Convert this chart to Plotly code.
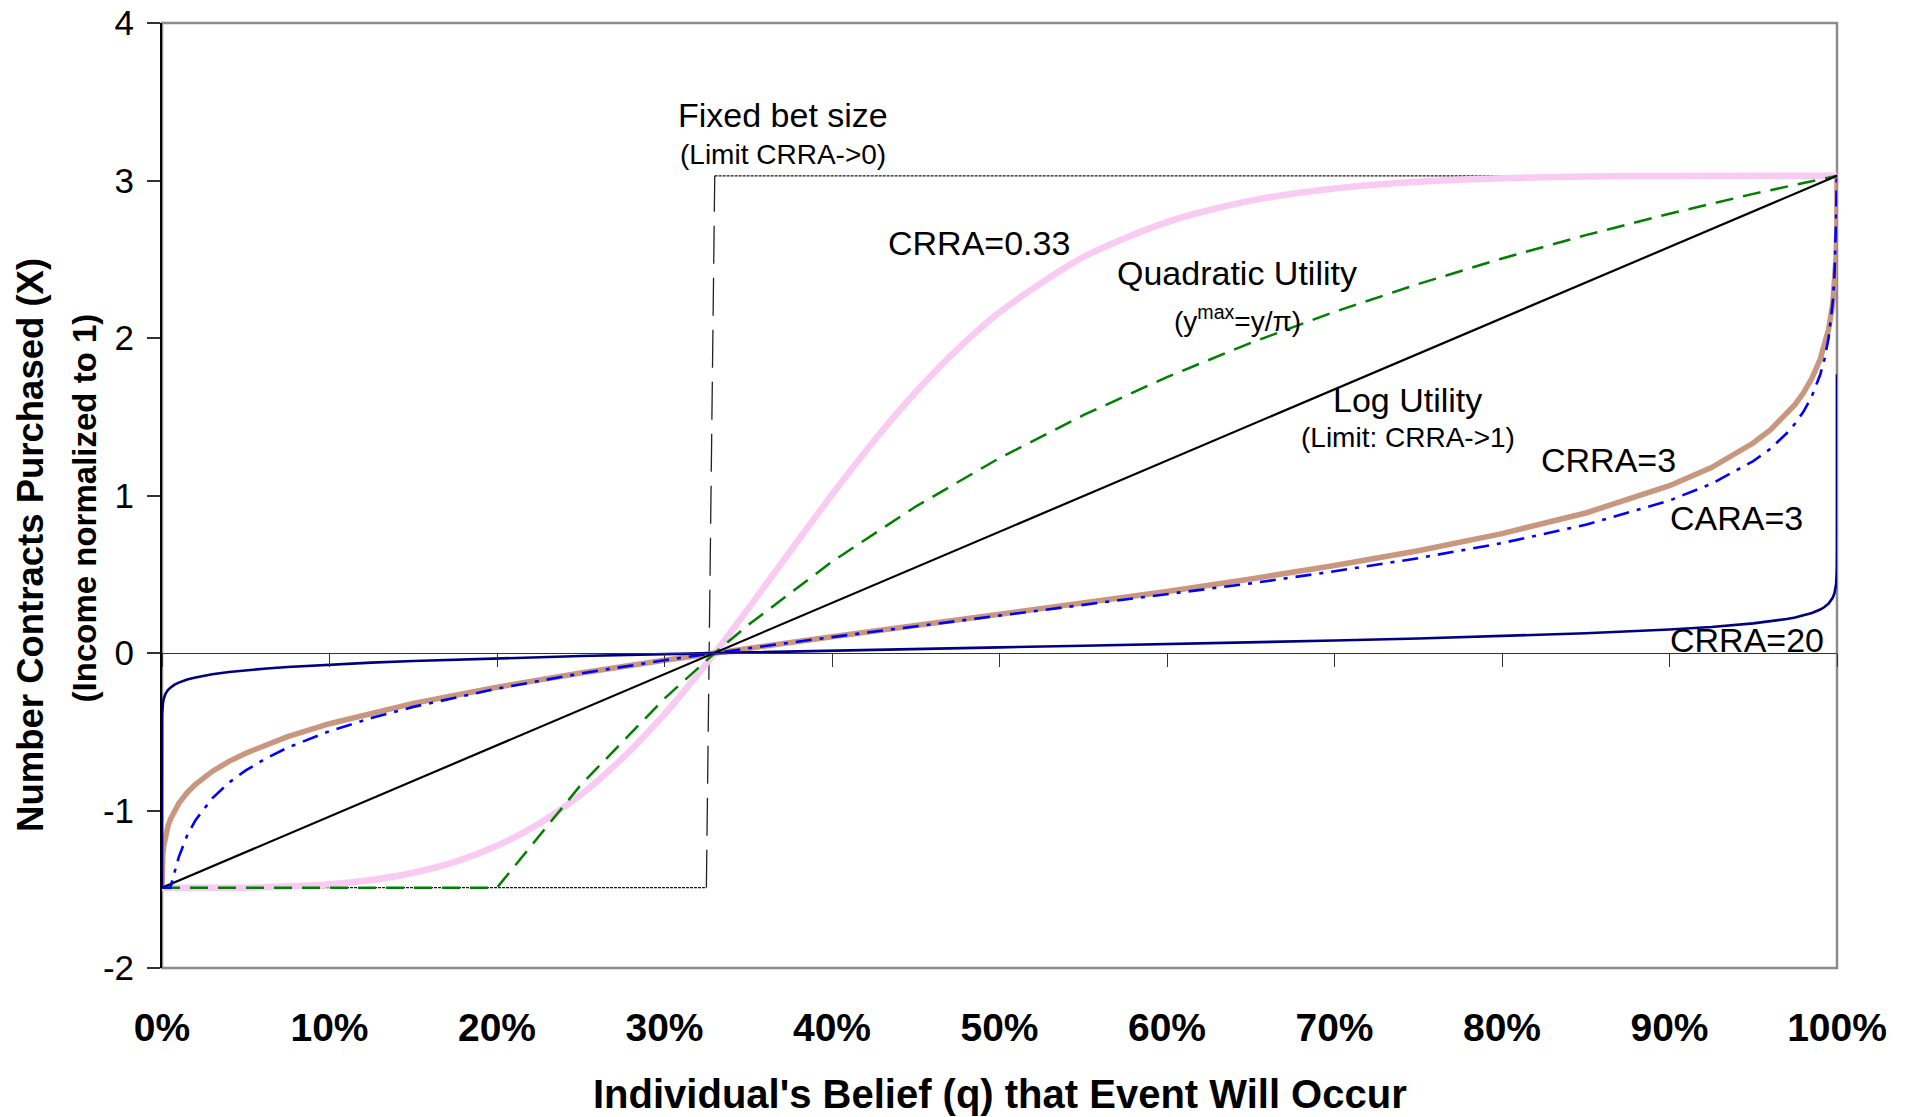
import plotly.graph_objects as go

# ---------------- data ----------------
x_tickvals = [0, 0.1, 0.2, 0.3, 0.4, 0.5, 0.6, 0.7, 0.8, 0.9, 1.0]
x_ticktext = ["0%", "10%", "20%", "30%", "40%", "50%", "60%", "70%", "80%", "90%", "100%"]
y_tickvals = [-2, -1, 0, 1, 2, 3, 4]
y_ticktext = ["-2", "-1", "0", "1", "2", "3", "4"]

# Fixed bet size (limit CRRA -> 0)
fixed_q = [0.0, 0.325, 0.33, 1.0]
fixed_x = [-1.49, -1.49, 3.03, 3.03]

# Log utility
log_q = [0.0, 1.0]
log_x = [-1.49, 3.03]

# CRRA = 0.33
crra033_q = [0.0, 0.05, 0.075, 0.1, 0.125, 0.15, 0.175, 0.2, 0.225, 0.25, 0.275, 0.3, 0.31, 0.33,
             0.35, 0.375, 0.4, 0.425, 0.45, 0.475, 0.5, 0.55, 0.6, 0.65, 0.7, 0.75, 0.8, 0.85, 0.9, 1.0]
crra033_x = [-1.49, -1.49, -1.483, -1.468, -1.441, -1.395, -1.326, -1.224, -1.084, -0.900, -0.667, -0.388, -0.264, 0.0,
             0.282, 0.645, 1.005, 1.346, 1.657, 1.930, 2.163, 2.513, 2.736, 2.872, 2.949, 2.992, 3.014, 3.025, 3.029, 3.03]

# Quadratic utility
quad_q = [0.0, 0.2, 0.25, 0.3, 0.33, 0.35, 0.4, 0.45, 0.5, 0.55, 0.6, 0.65, 0.7, 0.75, 0.8, 0.85, 0.9, 0.95, 1.0]
quad_x = [-1.49, -1.49, -0.838, -0.289, 0.0, 0.178, 0.580, 0.930, 1.238, 1.510, 1.752, 1.969, 2.166, 2.343,
          2.505, 2.653, 2.789, 2.915, 3.03]

# shared belief grid for CRRA=3, CARA=3, CRRA=20
q_grid = [0.0, 0.00001, 0.00005, 0.0001, 0.0005, 0.001, 0.002, 0.0035, 0.005, 0.0075,
          0.01, 0.015, 0.02, 0.03, 0.04, 0.05, 0.0625, 0.075, 0.1, 0.125,
          0.15, 0.2, 0.25, 0.3, 0.33, 0.35, 0.4, 0.45, 0.5, 0.55,
          0.6, 0.65, 0.7, 0.75, 0.8, 0.85, 0.9, 0.925, 0.95, 0.96,
          0.97, 0.975, 0.98, 0.985, 0.99, 0.9925, 0.995, 0.9975, 0.9985, 0.999,
          0.9995, 0.9999, 0.99995, 0.99999, 1.0]
crra3_x = [-1.49, -1.433, -1.391, -1.365, -1.279, -1.227, -1.163, -1.101, -1.056, -0.999,
           -0.955, -0.887, -0.834, -0.752, -0.688, -0.636, -0.580, -0.531, -0.449, -0.380,
           -0.320, -0.217, -0.127, -0.046, 0.0, 0.030, 0.103, 0.174, 0.245, 0.317,
           0.391, 0.470, 0.555, 0.649, 0.758, 0.889, 1.062, 1.177, 1.333, 1.414,
           1.516, 1.578, 1.652, 1.744, 1.866, 1.948, 2.056, 2.221, 2.329, 2.405,
           2.520, 2.717, 2.778, 2.879, 3.03]
cara3_x = [-1.49, -1.49, -1.49, -1.49, -1.49, -1.49, -1.49, -1.49, -1.49, -1.392,
           -1.296, -1.159, -1.061, -0.923, -0.823, -0.745, -0.667, -0.601, -0.496, -0.413,
           -0.342, -0.226, -0.130, -0.046, 0.0, 0.030, 0.101, 0.169, 0.236, 0.303,
           0.371, 0.442, 0.519, 0.602, 0.698, 0.814, 0.968, 1.074, 1.218, 1.295,
           1.395, 1.457, 1.533, 1.631, 1.768, 1.865, 2.001, 2.232, 2.403, 2.538,
           2.770, 3.03, 3.03, 3.03, 3.03]
crra20_x = [-1.49, -0.484, -0.420, -0.391, -0.323, -0.292, -0.261, -0.236, -0.220, -0.201,
            -0.188, -0.168, -0.155, -0.135, -0.121, -0.110, -0.098, -0.089, -0.074, -0.061,
            -0.051, -0.034, -0.019, -0.007, 0.0, 0.004, 0.015, 0.026, 0.036, 0.046,
            0.056, 0.067, 0.079, 0.092, 0.107, 0.125, 0.149, 0.165, 0.188, 0.200,
            0.216, 0.226, 0.238, 0.254, 0.276, 0.292, 0.314, 0.352, 0.380, 0.402,
            0.440, 0.530, 0.569, 0.659, 1.77]

FONT = "Arial, Liberation Sans, sans-serif"

fig = go.Figure()

# Fixed bet size: flat segments (fine dotted) and the jump (long dash)
fig.add_trace(go.Scatter(x=fixed_q[0:2] + [None] + fixed_q[2:4], y=fixed_x[0:2] + [None] + fixed_x[2:4],
                         mode="lines", line=dict(color="#1A1A1A", width=1.3, dash="3px,1px"),
                         connectgaps=False, showlegend=False, hoverinfo="skip"))
fig.add_trace(go.Scatter(x=fixed_q[1:3], y=fixed_x[1:3], mode="lines",
                         line=dict(color="#222222", width=1.3, dash="38px,14px"),
                         showlegend=False, hoverinfo="skip"))

# CRRA = 0.33 (pink, thick)
fig.add_trace(go.Scatter(x=crra033_q, y=crra033_x, mode="lines", line_shape="spline",
                         line=dict(color="#F9CBF3", width=6.5, smoothing=0.8), showlegend=False))
# CRRA = 3 (tan, thick)
fig.add_trace(go.Scatter(x=q_grid, y=crra3_x, mode="lines",
                         line=dict(color="#C9977D", width=5.5), showlegend=False))
# Quadratic utility (green dashed)
fig.add_trace(go.Scatter(x=quad_q, y=quad_x, mode="lines",
                         line=dict(color="#008000", width=2.5, dash="18px,10px"), showlegend=False))
# Log utility (black)
fig.add_trace(go.Scatter(x=log_q, y=log_x, mode="lines",
                         line=dict(color="#000000", width=2.2), showlegend=False))
# CARA = 3 (blue dash-dot)
fig.add_trace(go.Scatter(x=q_grid, y=cara3_x, mode="lines",
                         line=dict(color="#0000FF", width=2.6, dash="16px,8px,4px,8px"), showlegend=False))
# CRRA = 20 (navy) on overlay axis that draws the zero line with ticks
fig.add_trace(go.Scatter(x=q_grid, y=crra20_x, mode="lines", xaxis="x2",
                         line=dict(color="#000080", width=2.6), showlegend=False))

fig.update_layout(
    width=1912, height=1117, autosize=False,
    margin=dict(l=162, r=75, t=23, b=149),
    plot_bgcolor="white", paper_bgcolor="white",
    font=dict(family=FONT, color="black"),
    xaxis=dict(range=[0, 1], tickvals=x_tickvals, ticktext=x_ticktext, showgrid=False, zeroline=False,
               ticks="", showline=False, tickfont=dict(family=FONT, size=39, color="black", weight="bold"),
               ticklabelstandoff=33, automargin=False),
    xaxis2=dict(range=[0, 1], overlaying="x", anchor="free", position=1/3, side="bottom",
                tickvals=x_tickvals, showticklabels=False, ticks="outside", ticklen=13, tickwidth=1.2,
                tickcolor="#333333", showline=True, linecolor="#333333", linewidth=1.2,
                showgrid=False, zeroline=False, automargin=False),
    yaxis=dict(range=[-2, 4], tickvals=y_tickvals, ticktext=y_ticktext, showgrid=False, zeroline=False,
               ticks="outside", ticklen=13, tickwidth=1.5, tickcolor="#333333",
               showline=True, linecolor="black", linewidth=2, automargin=False,
               tickfont=dict(family=FONT, size=35, color="black"), ticklabelstandoff=6),
    shapes=[dict(type="rect", xref="paper", yref="paper", x0=0, x1=1, y0=0, y1=1,
                 line=dict(color="#8C8C8C", width=2.5), layer="below")],
)

ann = []
def add(text, x, y, size, xanchor="center", xref="x", yref="y", angle=0, bold=False):
    ann.append(dict(text=text, x=x, y=y, xref=xref, yref=yref, showarrow=False, xanchor=xanchor,
                    yanchor="middle", textangle=angle,
                    font=dict(family=FONT, size=size, color="black", weight="bold" if bold else "normal")))

add("Fixed bet size", 0.371, 3.418, 34)
add("(Limit CRRA->0)", 0.371, 3.164, 28)
add("CRRA=0.33", 0.4876, 2.605, 34)
add("Quadratic Utility", 0.6416, 2.415, 34)
add("(y<sup>max</sup>=y/π)", 0.6422, 2.123, 28)
add("Log Utility", 0.7437, 1.609, 34)
add("(Limit: CRRA->1)", 0.7437, 1.367, 28)
add("CRRA=3", 0.8637, 1.227, 34)
add("CARA=3", 0.940, 0.859, 34)
add("CRRA=20", 0.946, 0.085, 34)

# axis titles
add("Individual's Belief (q) that Event Will Occur", 0.5, -0.1333, 40, xref="paper", yref="paper", bold=True)
add("Number Contracts Purchased (X)", -0.0785, 0.4472, 36.5, xref="paper", yref="paper", angle=-90, bold=True)
add("(Income normalized to 1)", -0.0462, 0.487, 33, xref="paper", yref="paper", angle=-90, bold=True)

fig.update_layout(annotations=ann)
fig.write_html("out.html", config={"displayModeBar": False},
               post_script="document.body.style.margin='0px';document.body.style.overflow='hidden';")
